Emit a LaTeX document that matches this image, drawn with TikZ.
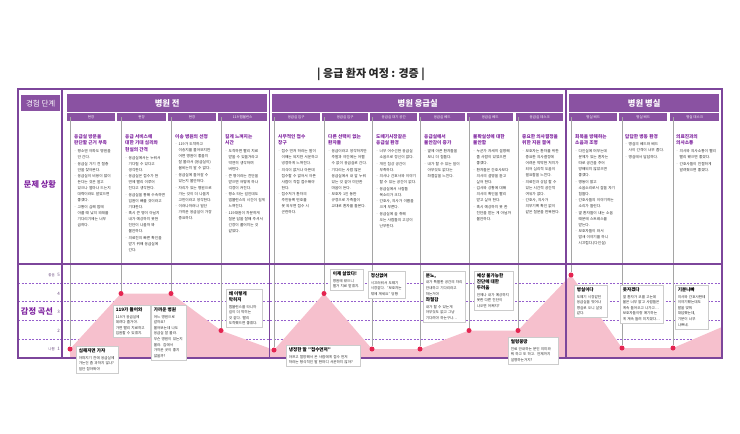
\documentclass[tikz,border=0pt]{standalone}
\usepackage{fontspec}
\setmainfont{Noto Sans CJK KR}
\definecolor{purp}{RGB}{125,70,155}
\definecolor{hpurp}{RGB}{138,82,162}
\definecolor{tpurp}{RGB}{128,38,160}
\definecolor{dpurp}{RGB}{150,95,205}
\definecolor{pinkc}{RGB}{246,192,205}
\definecolor{dotc}{RGB}{228,36,80}
\definecolor{glc}{RGB}{165,165,165}
\definecolor{txt}{RGB}{45,45,45}
\definecolor{lvlc}{RGB}{110,80,130}
\newcommand{\ct}[1]{{\fontsize{4.7}{6.6}\selectfont\bfseries\color{tpurp}#1\par}\vspace{1.8pt}}
\newcommand{\bi}[1]{\par\hangindent=3.4pt\hangafter=1\noindent\makebox[3.4pt][l]{·}#1\par\vspace{0.6pt}}
\newcommand{\et}[1]{{\fontsize{4.6}{6}\selectfont\bfseries\color{black}#1\par}\vspace{0.8pt}}
\begin{document}
\begin{tikzpicture}[x=1pt,y=-1pt,
  frame/.style={draw=purp, line width=1.5pt},
  hdr/.style={fill=hpurp, text=white, font=\fontsize{8.3}{9}\selectfont\bfseries, minimum height=18pt, inner sep=0pt, anchor=north west},
  subhdr/.style={fill=hpurp, text=white, font=\fontsize{3.5}{4}\selectfont, minimum height=8pt, inner sep=0pt, anchor=north west},
  card/.style={anchor=north west, text width=40pt, align=left, inner sep=0pt, font=\fontsize{3.7}{6}\selectfont, text=txt},
  emo/.style={anchor=north west, fill=white, draw=gray!40, line width=0.6pt, align=left, inner sep=2.5pt, font=\fontsize{3.6}{5.6}\selectfont, text=txt},
  gline/.style={draw=glc, line width=1pt},
  dot/.style={circle, fill=dotc, inner sep=0pt, minimum size=5pt},
  dashl/.style={draw=dpurp, line width=0.7pt, dash pattern=on 2pt off 1.5pt},
  lvl/.style={text=lvlc, font=\fontsize{3.5}{4}\selectfont, inner sep=0pt, anchor=east},
  lvnum/.style={text=lvlc, font=\fontsize{4.5}{5}\selectfont, inner sep=0pt, anchor=east},
  sidelab/.style={text=tpurp, font=\fontsize{8.2}{9}\selectfont\bfseries, inner sep=0pt}
]
\useasboundingbox (0,0) rectangle (740,434);

% title
\node[font=\fontsize{11}{13}\selectfont\bfseries, text=black!85] (title) at (371,74) {| 응급 환자 여정 : 경증 |};

% dashed level lines
\foreach \yy in {283,301.5,320,339.5} \draw[dashl] (18,\yy) -- (722,\yy);

% headers
\node[hdr, minimum width=39pt, minimum height=16pt, font=\fontsize{7.5}{8}\selectfont] (stage) at (21,95) {경험 단계};
\node[hdr, minimum width=200pt] (h1) at (67,94) {병원 전};
\node[hdr, minimum width=291pt] (h2) at (272,94) {병원 응급실};
\node[hdr, minimum width=150pt] (h3) at (569,94) {병원 병실};

\node[subhdr, minimum width=48pt] (s1) at (67,113) {현장};
\node[subhdr, minimum width=49pt] (s2) at (117,113) {현장};
\node[subhdr, minimum width=48pt] (s3) at (168,113) {현장};
\node[subhdr, minimum width=49pt] (s4) at (218,113) {119 앰뷸런스};
\node[subhdr, minimum width=48pt] (s5) at (272,113) {응급실 입구};
\node[subhdr, minimum width=46pt] (s6) at (322,113) {응급실 입구};
\node[subhdr, minimum width=47pt] (s7) at (370,113) {응급실 대기 공간};
\node[subhdr, minimum width=46pt] (s8) at (419,113) {응급실 베드};
\node[subhdr, minimum width=46pt] (s9) at (467,113) {응급실 베드};
\node[subhdr, minimum width=47pt] (s10) at (516,113) {응급실 데스크};
\node[subhdr, minimum width=48pt] (s11) at (569,113) {병실 베드};
\node[subhdr, minimum width=48pt] (s12) at (619,113) {병실 베드};
\node[subhdr, minimum width=49pt] (s13) at (670,113) {병실 데스크};

% curve points
\coordinate (p1) at (70,349);
\coordinate (p2) at (121,293.5);
\coordinate (p3) at (171,293.5);
\coordinate (p4) at (221,330.5);
\coordinate (p5) at (274,350);
\coordinate (p6) at (324,293.5);
\coordinate (p7) at (372,349);
\coordinate (p8) at (420,349);
\coordinate (p9) at (469,330.5);
\coordinate (p10) at (518,330.5);
\coordinate (p11) at (571,275);
\coordinate (p12) at (622,348);
\coordinate (p13) at (673,348);
\coordinate (pend) at (722,327);

\fill[pinkc] (70,357) -- (p1) -- (p2) -- (p3) -- (p4) -- (p5) -- (p6) -- (p7) -- (p8) -- (p9) -- (p10) -- (p11) -- (p12) -- (p13) -- (pend) -- (722,357) -- cycle;

\foreach \i in {1,...,13} \node[dot] (d\i) at (p\i) {};
\foreach \i in {1,...,13} \draw[gline] (s\i.west -| d\i) -- (d\i);

% frame
\draw[frame] (18,89) rectangle (722,358);
\draw[frame, line width=1.2pt] (62,89) -- (62,358);
\draw[frame] (18,264) -- (722,264);
\draw[frame, line width=1.3pt] (269.5,89) -- (269.5,358);
\draw[frame, line width=1.3pt] (566,89) -- (566,358);

% side labels
\node[sidelab] (lp) at (40,184) {문제 상황};
\node[sidelab] (le) at (37,311) {감정 곡선};
\node[lvl] (l5a) at (55,275) {좋음}; \node[lvnum] (l5) at (60,275) {5};
\node[lvnum] (l4) at (60,293.5) {4};
\node[lvnum] (l3) at (60,312) {3};
\node[lvnum] (l2) at (60,330.5) {2};
\node[lvl] (l1a) at (55,349) {나쁨}; \node[lvnum] (l1) at (60,349) {1};

% cards
\node[card] (c1) at (74,134) {\ct{응급실 방문을\\판단할 근거 부족}
\bi{평소엔 아파도 병원을 안 간다.}
\bi{응급실 가기 전 절충 안을 찾아본다.}
\bi{응급실이 비용이 많이 든다는 것은 알고 있으나 얼마나 드는지 대략이라도 알았으면 좋겠다.}
\bi{고통이 심해 밤에 아플 때 낮의 외래를 기다리기에는 너무 급하다.}};

\node[card] (c2) at (125,134) {\ct{응급 서비스에\\대한 기대 심리와\\현실의 간격}
\bi{응급실에서는 누워서 기다릴 수 있다고 생각한다.}
\bi{응급실은 접수가 한 번에 빨리 이루어 진다고 생각한다.}
\bi{응급실을 통해 수속하면 입원이 빠를 것이라고 기대한다.}
\bi{혹시 큰 병이 아닐지 내가 예상하지 못한 진단이 나올까 봐 불안하다.}
\bi{의료진의 빠른 확인을 받기 위해 응급실에 간다.}};

\node[card] (c3) at (175,134) {\ct{이송 병원의 선정}
\bi{119가 도착하고 이송지를 물어보지만 어떤 병원이 좋을지 잘 몰라서 (응급실이) 붐비는지 알 수 없다.}
\bi{응급실에 들어갈 수 있는지 불안하다.}
\bi{자리가 있는 병원으로 가는 것이 더 나을지 고민이라고 생각한다.}
\bi{이러나저러나 일단 가까운 응급실이 가장 중요하다.}};

\node[card] (c4) at (225,134) {\ct{길게 느껴지는\\시간}
\bi{도착하면 빨리 치료 받을 수 있을거라고 막연히 생각하며 버틴다.}
\bi{큰 병이라는 진단을 받으면 어떻게 하나 걱정이 커진다.}
\bi{평소 타는 길인데도 앰뷸런스의 시간이 길게 느껴진다.}
\bi{119대원이 차분하게 질문 답을 잘해 주셔서 긴장이 풀어지는 것 같았다.}};

\node[card] (c5) at (278,134) {\ct{사무적인 접수\\창구}
\bi{접수 먼저 하라는 말이 이해는 되지만 서운하고 냉정하게 느껴진다.}
\bi{의식이 없거나 아픈데 접수할 수 없어서 아픈 사람이 직접 접수해야 한다.}
\bi{접수처가 환자의 주민등록 번호를 못 외우면 접수 시 곤란하다.}};

\node[card] (c6) at (328,134) {\ct{다른 선택이 없는\\환자들}
\bi{응급이라고 생각하지만 주말과 야간에는 어쩔 수 없이 응급실로 간다.}
\bi{기다리는 사람 많은 응급실에서 내 앞 누워 있는 것 같아 미안한 마음이 든다.}
\bi{보호자 1인 동반 규정으로 가족들이 교대로 환자를 돌본다.}};

\node[card] (c7) at (376,134) {\ct{도떼기시장같은\\응급실 환경}
\bi{너무 어수선한 응급실 소음으로 정신이 없다.}
\bi{개인 침상 공간이 부족하다.}
\bi{의사나 간호사와 이야기 할 수 있는 공간이 없다.}
\bi{응급실에서 사람들 목소리가 크다.}
\bi{간호사, 의사가 이름을 크게 부른다.}
\bi{응급실에 술 취해 오는 사람들의 고성이 난무한다.}};

\node[card] (c8) at (424,134) {\ct{응급실에서\\불안감이 증가}
\bi{옆에 아픈 환자들을 보니 더 힘들다.}
\bi{내가 할 수 있는 일이 아무것도 없다는 좌절감을 느낀다.}};

\node[card] (c9) at (473,134) {\ct{불확실성에 대한\\불안함}
\bi{누군가 자세히 설명해 줄 사람이 있었으면 좋겠다.}
\bi{환자들은 간호사보다 의사의 설명을 듣고 싶어 한다.}
\bi{검사와 상황에 대해 의사의 확인을 빨리 받고 싶어 한다.}
\bi{혹시 예상하지 못 한 진단을 받는 게 아닐까 불안하다.}};

\node[card] (c10) at (522,134) {\ct{중요한 의사결정을\\위한 지원 결여}
\bi{보호자는 환자를 위한 중요한 의사결정에 어려운 막막한 처지가 되어 심리적 도움이 필요함을 느낀다.}
\bi{의료진과 상담 할 수 있는 시간적 공간적 여유가 없다.}
\bi{간호사, 의사가 의무기록 확인 없이 같은 질문을 반복한다.}};

\node[card] (c11) at (575,134) {\ct{회복을 방해하는\\소음과 조명}
\bi{다인실에 머무는데 문제가 있는 환자는 따로 공간을 주어 방해되지 않았으면 좋겠다.}
\bi{병동이 밝고 소음소리로서 잠을 자기 힘들다.}
\bi{간호사들의 이야기하는 소리가 들린다.}
\bi{옆 환자들이 내는 소음 때문에 스트레스를 받는다.}
\bi{보호자들이 와서 밤새 이야기를 하니 시끄럽다.(다인실)}};

\node[card] (c12) at (625,134) {\ct{답답한 병동 환경}
\bi{병실의 베드와 베드 사이 간격이 너무 좁다.}
\bi{병실에서 답답하다.}};

\node[card] (c13) at (676,134) {\ct{의료진과의\\의사소통}
\bi{의사와 의사소통이 빨리 빨리 됐으면 좋겠다.}
\bi{간호사들이 친절하게 알려줬으면 좋겠다.}};

% emotion boxes
\node[emo, text width=37pt] (e1) at (76,346) {\et{심해지면 가자}아파지기 전에 응급실에 가는건 좀 과하지 않나? 일단 참아봐야};
\node[emo, text width=32pt] (e2) at (113,305) {\et{119가 들어와}119가 응급실에 데려다 줄거야. 가면 빨리 치료하고 입원할 수 있겠지.};
\node[emo, text width=30pt] (e3) at (151,305) {\et{가까운 병원}어느 병원으로 갈까요? 물어보는데 나도 응급실 잘 몰라. 무슨 병원이 있는지 몰라. 집에서 가까운 곳이 좋지 않을까?};
\node[emo, text width=31pt] (e4) at (226,289) {\et{왜 이렇게 막히지}앰뷸런스를 타니까 길이 더 막히는 것 같다. 빨리 도착했으면 좋겠다.};
\node[emo, text width=69pt] (e5) at (286,345) {\et{냉정한 말 "접수먼저"}아프고 절망해서 온 사람에게 접수 먼저 하라는 형식적인 말 한마디 서운하지 않아?};
\node[emo, text width=28pt] (e6) at (330,269) {\et{이제 살았다!}병원에 왔으니 별거 치료 받겠지.};
\node[emo, text width=32pt] (e7) at (368,271) {\et{정신없어}시끄러워서 도떼기 시장같다. "보호자는 밖에 계세요" 당황};
\node[emo, text width=37pt] (e8) at (423,271) {\et{분노,}내가 특별한 공간의 자리 안내하고 기다리라고 하는거야\par\vspace{0.8pt}\et{좌절감}내가 할 수 있는게 아무것도 없고 그냥 기다려야 하는구나…};
\node[emo, text width=34pt] (e9) at (474,271) {\et{예상 불가능한\\진단에 대한\\두려움}언제나 내가 예상하지 못한 다른 진단이 나오면 어쩌지?};
\node[emo, text width=45pt] (e10) at (508,337) {\et{얼렁뚱땅~}진료 안내하는 분인 의미와 뭐 하고 또 하고. 언제까지 설명하는거지?};
\node[emo, text width=28pt] (e11) at (574,285) {\et{병실이다}도떼기 시장같던 응급실을 벗어나 병실로 오니 살것 같다.};
\node[emo, text width=38pt] (e12) at (620,285) {\et{못자겠다}옆 환자가 코를 고는데 불은 너무 밝고 사람들은 계속 들어오고 나가고… 보호자들이랑 얘기하는 게 계속 들려 미치겠다…};
\node[emo, text width=28pt] (e13) at (675,285) {\et{기분나빠}의사와 간호사한테 이야기했는데도 말을 맞춰 대답했는데, 기분이 너무 나쁘네.};
\end{tikzpicture}
\end{document}
